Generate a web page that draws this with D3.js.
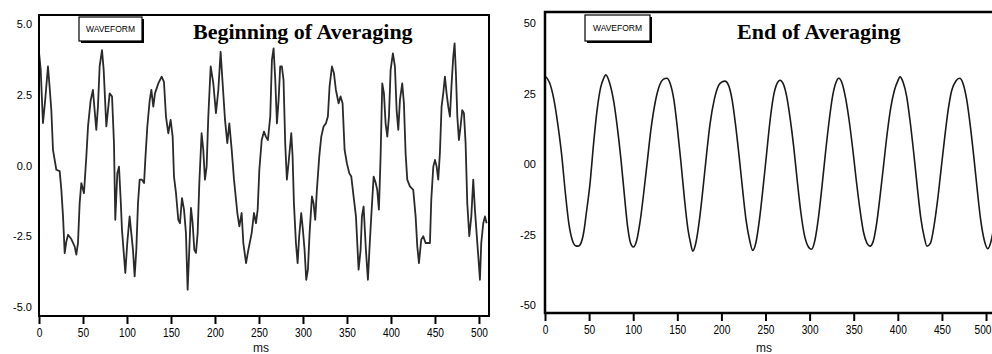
<!DOCTYPE html>
<html>
<head>
<meta charset="utf-8">
<script src="https://cdn.jsdelivr.net/npm/d3@7"></script>
<style>
  html, body { margin: 0; padding: 0; background: #fff; }
  svg { display: block; }
</style>
</head>
<body>
<svg id="chart" width="992" height="354"></svg>
<script>
const xTicks = [0, 50, 100, 150, 200, 250, 300, 350, 400, 450, 500];
const yTicks = [5, 2.5, 0, -2.5, -5];
const beginYLabels = ['5.0', '2.5', '0.0', '-2.5', '-5.0'];
const endYLabels = ['50', '25', '00', '-25', '-50'];
const xTitle = 'ms';
const legendLabel = 'WAVEFORM';

// [ms, value]
const beginWave = [
  [0, 4.0], [1.9, 3.4], [4.5, 1.5], [7, 2.3], [10.2, 3.5], [12, 2.8], [14, 1.96], [15.9, 0.55],
  [19.7, -0.15], [23.5, -0.2], [25.4, -0.86], [27.3, -1.8], [29.2, -3.1], [31, -2.7], [33, -2.45],
  [36.7, -2.6], [40.5, -2.86], [42.4, -3.15], [44.3, -2.74], [46.2, -1.33], [48.1, -0.62], [51.1, -0.98],
  [53.8, 0.32], [55.7, 1.38], [58.7, 2.3], [61.3, 2.67], [63.2, 1.96], [65.1, 1.26], [67, 2.08],
  [68.9, 3.5], [71.6, 4.08], [73.5, 3.38], [76.5, 1.38], [78.4, 1.96], [80.3, 2.55], [83, 2.44],
  [85.2, 0.79], [86.7, -1.92], [89, -0.27], [90.9, -0.04], [92.8, -1.2], [94.3, -2.27], [96.6, -3.2],
  [98.1, -3.8], [100.3, -2.74], [103, -1.8], [104.9, -2.39], [106.8, -2.98], [108.7, -3.92], [110.6, -2.98],
  [112.5, -1.33], [114.4, -0.5], [117, -0.5], [119.4, -0.62], [120.8, 0.2], [123.1, 1.38], [125.8, 2.3],
  [127.7, 2.67], [129.9, 2.08], [131.8, 2.55], [135.6, 2.9], [139.4, 3.14], [142, 2.96], [144.3, 1.73],
  [146.9, 1.14], [149.6, 1.61], [151.9, 1.02], [153.4, -0.39], [155.7, -0.98], [158.3, -1.92], [160.2, -2.04],
  [162.5, -1.15], [164.8, -1.56], [167, -2.39], [168.9, -4.39], [170.8, -2.98], [172.7, -1.5], [174.6, -2.04],
  [176.5, -2.98], [178.4, -3.09], [180.3, -2.39], [182.2, -0.62], [184.8, 1.14], [186.7, 0.55], [188.6, -0.5],
  [190.5, -0.04], [192.4, 1.73], [195.1, 3.5], [198.1, 2.9], [201.1, 1.85], [203.8, 2.67], [206.4, 4.02],
  [208.7, 2.9], [211.4, 1.61], [214, 0.79], [216.3, 1.49], [219, 0.55], [221.6, -0.5], [225.4, -1.68],
  [227.7, -2.15], [230.3, -1.68], [232.2, -2.74], [235.3, -3.45], [237.9, -2.98], [241.7, -2.39], [244.3, -1.68],
  [246.6, -2.04], [248.5, -1.56], [250.4, -0.15], [253.1, 0.9], [255.7, 1.2], [257.8, 1.02], [260.1, 0.9],
  [262.8, 1.73], [264.7, 3.73], [266.6, 4.14], [268.5, 3.02], [270.4, 1.49], [272.3, 2.32], [274.1, 3.5],
  [276, 3.5], [277.9, 3.02], [279.8, 0.79], [281.7, -0.5], [283.6, 0.08], [286.7, 1.14], [288.2, 0.32],
  [289.7, -1.33], [292, -2.74], [293.9, -3.45], [295.7, -2.5], [298, -1.68], [299.9, -2.27], [301.8, -2.98],
  [303.7, -4.04], [305.6, -3.68], [307.5, -2.39], [310.2, -1.09], [312, -1.33], [313.9, -1.92], [315.8, -0.86],
  [318.5, 0.32], [320.8, 1.02], [323.4, 1.38], [326.1, 1.49], [328.3, 1.73], [330.2, 2.79], [332.9, 3.5],
  [335.2, 3.26], [337.4, 2.67], [340.5, 2.2], [342.7, 2.44], [345, 2.2], [347.3, 0.55], [349.9, 0.08],
  [352.6, -0.27], [354.9, -0.39], [357.5, -1.09], [360.2, -1.8], [363.2, -3.68], [365.5, -2.98], [367, -1.8],
  [368.9, -1.45], [371.5, -2.98], [373.8, -4.04], [375.7, -2.86], [377.6, -1.8], [380.3, -0.39], [382.5, -0.6],
  [384.4, -0.86], [386.3, -1.56], [388.2, 0.32], [390.1, 2.9], [392, 2.55], [393.9, 1.49], [395.8, 1.02],
  [397.7, 1.73], [399.6, 3.38], [402.2, 3.96], [404.5, 3.5], [406.4, 1.96], [408.3, 1.26], [410.2, 2.32],
  [412.8, 2.9], [414.7, 2.2], [416.6, 0.44], [418.5, -0.5], [421.5, -0.74], [425.3, -0.86], [428, -1.8],
  [429.9, -2.86], [431.8, -3.45], [434.4, -2.62], [436.7, -2.5], [439.3, -2.74], [442, -2.74], [444.3, -2.74],
  [445.8, -1.21], [448.1, -0.04], [450, 0.2], [451.9, -0.04], [453.7, -0.5], [455.6, 0.44], [457.5, 2.08],
  [459.4, 2.55], [461.3, 3.14], [463.2, 2.55], [465.1, 2.08], [467, 1.73], [468.9, 2.9], [470.8, 3.85],
  [472.3, 4.32], [473.8, 3.26], [475.4, 1.73], [477.2, 0.9], [479.1, 1.38], [481, 1.96], [482.9, 1.85],
  [484.8, 0.79], [486.7, -1.33], [489, -2.5], [491.3, -1.8], [493.5, -0.5], [495.4, -1.56], [497.3, -2.39],
  [499.2, -3.2], [501.1, -4.04], [502.6, -2.74], [504.9, -2.04], [506.8, -1.8], [508.7, -2.04]
];

// [ms, value]
const endWave = [
  [0, 3.12], [5, 2.9], [10, 2.3], [15, 1.3], [19, 0.3], [23, -1.0], [27, -2.1], [31, -2.7], [35, -2.9],
  [37.5, -2.91], [40, -2.85], [44, -2.4], [47, -1.7], [51, -0.7], [55, 0.7], [59, 1.9], [63, 2.7], [66, 3.0],
  [69, 3.16], [73, 2.9], [78, 2.2], [82, 1.3], [86, 0.2], [90, -1.1], [94, -2.3], [97, -2.8], [100, -2.94],
  [104, -2.7], [108, -2.0], [112, -1.0], [116, 0.1], [120, 1.2], [125, 2.2], [130, 2.8], [134, 3.0],
  [138, 3.04], [142, 2.85], [146, 2.3], [150, 1.3], [154, 0.1], [158, -1.2], [162, -2.3], [165, -2.8],
  [167.5, -3.09], [171, -2.8], [175, -2.0], [179, -0.9], [183, 0.3], [187, 1.4], [192, 2.3], [197, 2.8],
  [201, 2.92], [204, 2.94], [208, 2.8], [212, 2.3], [216, 1.4], [220, 0.3], [224, -0.9], [228, -2.0],
  [232, -2.7], [235.5, -3.06], [239, -2.8], [243, -2.0], [247, -0.9], [251, 0.3], [255, 1.5], [259, 2.4],
  [263, 2.85], [266.5, 2.97], [270, 2.85], [274, 2.4], [278, 1.6], [282, 0.6], [286, -0.6], [290, -1.7],
  [294, -2.5], [298, -2.9], [302, -3.02], [306, -2.7], [310, -1.9], [314, -0.8], [318, 0.4], [322, 1.5],
  [326, 2.4], [330, 2.9], [333, 3.04], [337, 2.85], [341, 2.3], [345, 1.5], [349, 0.5], [353, -0.6],
  [357, -1.6], [361, -2.4], [365, -2.8], [368.5, -2.91], [372, -2.75], [376, -2.1], [380, -1.1], [384, 0.0],
  [388, 1.1], [392, 2.0], [396, 2.6], [400, 2.95], [402.5, 3.09], [406, 2.9], [410, 2.4], [414, 1.5],
  [418, 0.4], [422, -0.8], [426, -1.9], [430, -2.6], [433, -2.91], [437, -2.8], [441, -2.2], [445, -1.3],
  [449, -0.2], [453, 0.9], [457, 1.9], [461, 2.6], [466, 2.95], [470, 3.04], [474, 2.85], [478, 2.3],
  [482, 1.4], [486, 0.3], [490, -0.9], [494, -2.0], [498, -2.7], [502, -3.0], [506, -2.7], [510, -2.0]
];

const svg = d3.select('#chart');
const pageWidth = 992;

function drawPanel(p) {
  const x = d3.scaleLinear().domain([0, p.xMax]).range([p.left, p.right]);
  const y = d3.scaleLinear().domain([p.yMin, p.yMax]).range([p.bottom, p.top]);
  const g = svg.append('g');

  g.append('clipPath').attr('id', p.id + '-clip')
    .append('rect')
    .attr('x', p.left).attr('y', p.top)
    .attr('width', p.right - p.left).attr('height', p.bottom - p.top);

  const line = d3.line()
    .x(d => x(d[0]))
    .y(d => y(d[1]))
    .curve(p.curve);

  g.append('path')
    .datum(p.data)
    .attr('clip-path', 'url(#' + p.id + '-clip)')
    .attr('d', line)
    .attr('fill', 'none')
    .attr('stroke', p.lineColor)
    .attr('stroke-width', p.lineWidth)
    .attr('stroke-linejoin', 'round');

  // frame
  g.append('rect')
    .attr('x', p.left).attr('y', p.top)
    .attr('width', p.right - p.left).attr('height', p.bottom - p.top)
    .attr('fill', 'none')
    .attr('stroke', '#000')
    .attr('stroke-width', p.frameWidth);

  // x axis
  g.append('g')
    .attr('transform', 'translate(0,' + p.bottom + ')')
    .call(d3.axisBottom(x).tickValues(xTicks).tickSize(8).tickPadding(4))
    .call(a => a.select('.domain').remove())
    .call(a => a.selectAll('.tick line').attr('stroke', '#000').attr('stroke-width', 2))
    .call(a => a.selectAll('.tick text')
      .attr('fill', '#000')
      .attr('font-family', '"Liberation Sans", Arial, sans-serif')
      .attr('font-size', 13)
      .attr('transform', 'scale(0.78,1)'))
    // keep the last label inside the page
    .call(a => a.selectAll('.tick')
      .filter(d => x(d) + 10 > pageWidth)
      .select('text')
      .attr('text-anchor', 'end')
      .attr('x', (pageWidth - 1 - x(xTicks[xTicks.length - 1])) / 0.78));

  // y axis
  g.append('g')
    .attr('transform', 'translate(' + p.left + ',0)')
    .call(d3.axisLeft(y).tickValues(yTicks).tickSize(0).tickPadding(p.yPad)
      .tickFormat((d, i) => p.yLabels[i]))
    .call(a => a.select('.domain').remove())
    .call(a => a.selectAll('.tick text')
      .attr('fill', '#000')
      .attr('font-family', '"Liberation Sans", Arial, sans-serif')
      .attr('font-size', 11));

  // x title (sits at the very bottom edge, as in the source)
  g.append('text')
    .attr('x', p.msX).attr('y', 352)
    .attr('text-anchor', 'middle')
    .attr('font-family', '"Liberation Sans", Arial, sans-serif')
    .attr('font-size', 12)
    .attr('fill', '#111')
    .text(xTitle);

  // title
  g.append('text')
    .attr('x', p.titleX).attr('y', 38.5)
    .attr('font-family', '"Liberation Serif", "Times New Roman", serif')
    .attr('font-weight', 'bold')
    .attr('font-size', 22)
    .attr('fill', '#000')
    .text(p.title);

  // legend box with drop shadow
  const lg = g.append('g').attr('transform', 'translate(' + p.legendX + ',' + p.legendY + ')');
  lg.append('rect').attr('x', 2).attr('y', 2).attr('width', p.legendW).attr('height', p.legendH).attr('fill', '#000');
  lg.append('rect').attr('width', p.legendW).attr('height', p.legendH)
    .attr('fill', '#fff').attr('stroke', '#000').attr('stroke-width', 1.2);
  lg.append('text')
    .attr('x', p.legendW / 2).attr('y', p.legendH / 2 + 3)
    .attr('text-anchor', 'middle')
    .attr('font-family', '"Liberation Sans", Arial, sans-serif')
    .attr('font-size', 8.5)
    .attr('fill', '#000')
    .text(legendLabel);
}

drawPanel({
  id: 'begin', data: beginWave, title: 'Beginning of Averaging', yLabels: beginYLabels,
  left: 39, right: 489, top: 15, bottom: 316, xMax: 511.4, yMin: -5.32, yMax: 5.32,
  curve: d3.curveLinear, lineColor: '#2a2a2a', lineWidth: 1.8, frameWidth: 2, yPad: 7,
  titleX: 193, msX: 261, legendX: 79, legendY: 17, legendW: 63, legendH: 24
});

drawPanel({
  id: 'end', data: endWave, title: 'End of Averaging', yLabels: endYLabels,
  left: 545, right: 996, top: 12, bottom: 313, xMax: 511.3, yMin: -5.28, yMax: 5.39,
  curve: d3.curveMonotoneX, lineColor: '#1a1a1a', lineWidth: 1.6, frameWidth: 2.5, yPad: 9,
  titleX: 737, msX: 764, legendX: 585, legendY: 15, legendW: 65, legendH: 26
});
</script>
</body>
</html>
